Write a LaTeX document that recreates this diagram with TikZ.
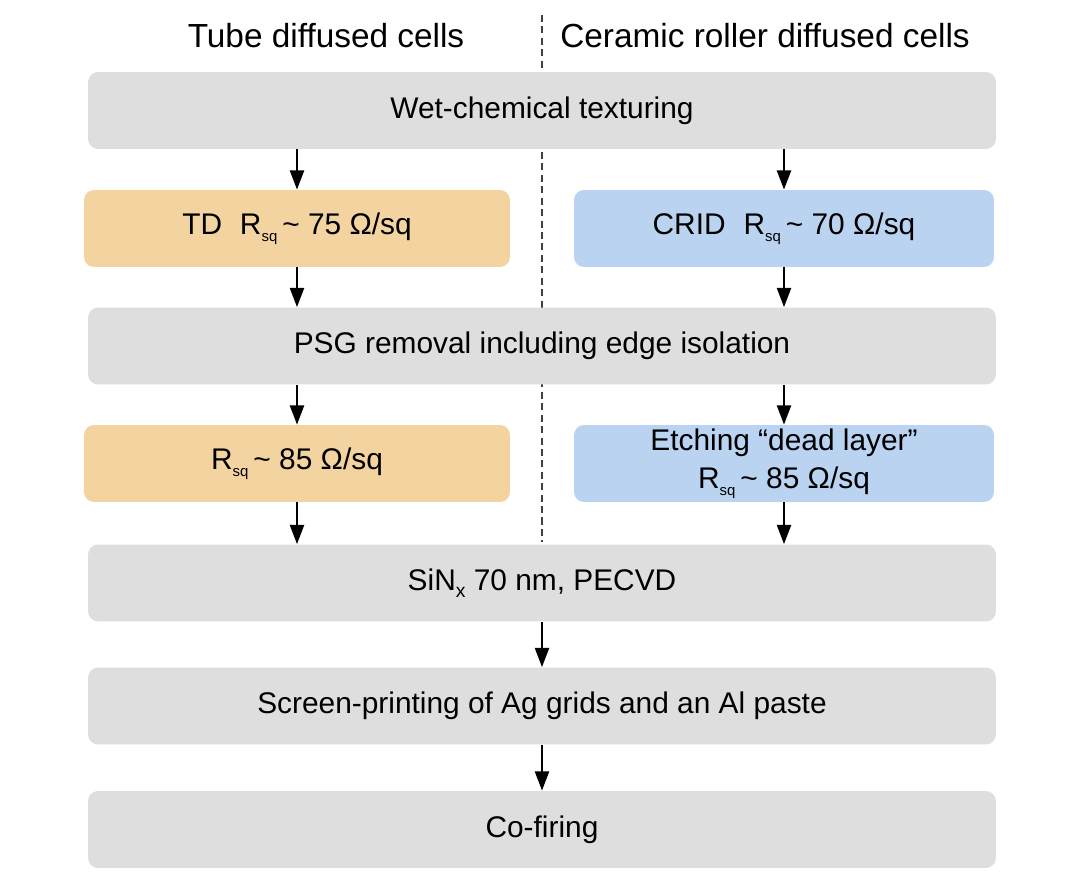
\documentclass[tikz,border=0pt]{standalone}
\usepackage{fontspec}
\setmainfont{Liberation Sans}
\usetikzlibrary{arrows.meta}
\definecolor{boxgray}{RGB}{222,222,222}
\definecolor{tdorange}{RGB}{243,212,160}
\definecolor{cridblue}{RGB}{186,211,240}
\newcommand{\rsq}{R\raisebox{-0.45ex}{\fontsize{8.5}{8.5}\selectfont sq}}
\tikzset{ box_style/.style = { rectangle % process step
        , rounded corners = 0.2cm
        , draw = none
        , minimum height = 1.54cm
        , inner ysep = 2pt
        , align = center
        , font = \fontsize{17}{21.5}\selectfont
        }
        , gray_box_style/.style = { box_style, fill = boxgray, minimum width = 18.16cm }
        , td_box_style/.style = { box_style, fill = tdorange, minimum width = 8.52cm }
        , crid_box_style/.style = { box_style, fill = cridblue, minimum width = 8.4cm }
        , head_style/.style = { font = \fontsize{19}{22}\selectfont }
        }

\begin{document}
\begin{tikzpicture}[x=0.02cm, y=-0.02cm,
        edge_style/.style={draw=black, line width=1.3pt, -{Triangle[length=11pt,width=8pt]}},
        divider_style/.style={draw=black!75, line width=0.6pt, dash pattern=on 4pt off 2.5pt}]
        \useasboundingbox (0,0) rectangle (1080,888);

        \coordinate (div_top) at (542,15);
        \coordinate (div_bot) at (542,542);
        \draw [divider_style] (div_top) -- (div_bot);

        \node [head_style] (h1) at (326,36) {Tube diffused cells};
        \node [head_style] (h2) at (765,36) {Ceramic roller diffused cells};

        \node [gray_box_style] (wet) at (542,110.5) {Wet-chemical texturing};
        \node [td_box_style] (td) at (297,228.5) {TD\hspace{0.6em}\rsq\,\textasciitilde\ 75 Ω/sq};
        \node [crid_box_style] (crid) at (784,228.5) {CRID\hspace{0.6em}\rsq\,\textasciitilde\ 70 Ω/sq};
        \node [gray_box_style] (psg) at (542,346) {PSG removal including edge isolation};
        \node [td_box_style] (td2) at (297,463.5) {\rsq\,\textasciitilde\ 85 Ω/sq};
        \node [crid_box_style] (crid2) at (784,463.5) {Etching “dead layer”\\\rsq\,\textasciitilde\ 85 Ω/sq};
        \node [gray_box_style] (sin) at (542,583) {SiN\raisebox{-0.45ex}{\fontsize{11}{11}\selectfont x} 70 nm, PECVD};
        \node [gray_box_style] (scr) at (542,706) {Screen-printing of Ag grids and an Al paste};
        \node [gray_box_style] (cof) at (542,829.5) {Co-firing};

        \draw [edge_style] (wet.south -| td) -- (td.north);
        \draw [edge_style] (wet.south -| crid) -- (crid.north);
        \draw [edge_style] (td.south) -- (psg.north -| td);
        \draw [edge_style] (crid.south) -- (psg.north -| crid);
        \draw [edge_style] (psg.south -| td2) -- (td2.north);
        \draw [edge_style] (psg.south -| crid2) -- (crid2.north);
        \draw [edge_style] (td2.south) -- (sin.north -| td2);
        \draw [edge_style] (crid2.south) -- (sin.north -| crid2);
        \draw [edge_style] (sin.south) -- (scr.north);
        \draw [edge_style] (scr.south) -- (cof.north);
\end{tikzpicture}
\end{document}
